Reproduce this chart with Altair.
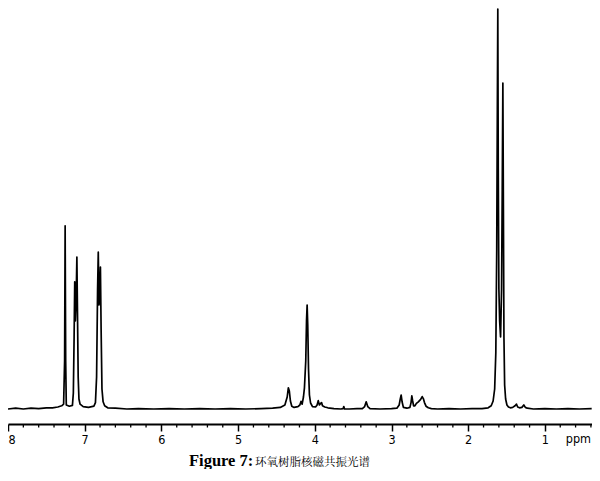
import altair as alt
import pandas as pd
import numpy as np

# Spectrum polyline vertices (chemical shift in ppm, relative intensity)
ppm = [
    8.00, 7.90, 7.80, 7.70, 7.60, 7.50, 7.42, 7.35, 7.30, 7.275,
    7.262, 7.255, 7.248, 7.24, 7.20, 7.16, 7.148, 7.138, 7.130, 7.122,
    7.112, 7.102, 7.094, 7.085, 7.075, 7.06, 7.02, 6.95, 6.88, 6.86,
    6.845, 6.832, 6.823, 6.813, 6.803, 6.795, 6.786, 6.775, 6.76, 6.74,
    6.70, 6.60, 6.45, 6.30, 6.10, 5.90, 5.70, 5.50, 5.30, 5.10,
    4.90, 4.70, 4.55, 4.45, 4.39, 4.36, 4.345, 4.332, 4.318, 4.30,
    4.27, 4.22, 4.195, 4.18, 4.165, 4.148, 4.135, 4.118, 4.108, 4.100,
    4.092, 4.082, 4.07, 4.055, 4.03, 3.99, 3.97, 3.955, 3.94, 3.925,
    3.912, 3.90, 3.87, 3.83, 3.75, 3.66, 3.63, 3.622, 3.612, 3.55,
    3.45, 3.38, 3.35, 3.33, 3.31, 3.28, 3.15, 3.00, 2.93, 2.90,
    2.885, 2.874, 2.862, 2.845, 2.80, 2.76, 2.745, 2.735, 2.724, 2.712,
    2.695, 2.675, 2.65, 2.62, 2.60, 2.585, 2.57, 2.55, 2.52, 2.48,
    2.40, 2.25, 2.10, 1.95, 1.82, 1.74, 1.70, 1.675, 1.655, 1.640,
    1.628, 1.620, 1.614, 1.608, 1.600, 1.590, 1.578, 1.565, 1.556, 1.548,
    1.541, 1.534, 1.525, 1.512, 1.495, 1.475, 1.45, 1.42, 1.39, 1.37,
    1.355, 1.33, 1.30, 1.275, 1.255, 1.23, 1.15, 1.00, 0.85, 0.70,
    0.55, 0.39,
]
intensity = [
    0.0, 0.2, 0.0, 0.2, 0.1, 0.3, 0.3, 0.5, 0.8, 1.2,
    12.0, 45.8, 12.0, 1.0, 0.7, 0.9, 4.0, 18.0, 31.8, 22.0,
    27.0, 38.0, 24.0, 8.0, 2.5, 1.2, 0.6, 0.4, 0.7, 1.6,
    8.0, 30.0, 39.2, 26.0, 30.0, 35.5, 20.0, 5.0, 1.8, 0.8,
    0.3, 0.2, 0.0, 0.1, 0.0, 0.1, 0.0, 0.1, 0.0, 0.1,
    0.0, 0.1, 0.2, 0.4, 1.0, 3.0, 5.3, 4.5, 2.0, 0.7,
    0.4, 0.6, 1.0, 1.9, 1.2, 3.0, 5.3, 12.0, 22.0, 26.0,
    21.0, 10.0, 3.5, 1.5, 0.6, 0.5, 1.0, 2.1, 1.0, 1.4,
    1.6, 0.8, 0.5, 0.3, 0.1, 0.0, 0.1, 0.6, 0.0, 0.0,
    0.1, 0.1, 0.6, 1.8, 0.6, 0.1, 0.0, 0.1, 0.2, 1.0,
    2.6, 3.5, 1.8, 0.4, 0.2, 0.4, 1.6, 3.3, 2.0, 0.8,
    0.8, 1.4, 1.8, 2.4, 3.1, 2.6, 1.6, 0.7, 0.3, 0.1,
    0.0, 0.1, 0.0, 0.1, 0.1, 0.3, 0.8, 2.0, 5.0, 14.0,
    40.0, 75.0, 100.0, 60.0, 30.0, 22.0, 18.0, 30.0, 55.0, 81.5,
    50.0, 18.0, 6.0, 2.5, 1.0, 0.5, 0.3, 0.4, 0.8, 1.2,
    0.5, 0.3, 0.4, 1.0, 0.4, 0.2, 0.0, 0.1, 0.0, 0.1,
    0.0, 0.1,
]

major_ticks = [1, 2, 3, 4, 5, 6, 7, 8]
minor_ticks = [round(v, 1) for v in np.arange(0.4, 8.0, 0.2) if abs(v - round(v)) > 0.05]

df = pd.DataFrame({"ppm": ppm, "intensity": intensity, "idx": range(len(ppm))})
minor_df = pd.DataFrame({"ppm": minor_ticks})

W, H = 584, 416
TOTAL_H = 461
PX_PER_PPM = 76.7
xscale = alt.Scale(domain=[8.0 - W / PX_PER_PPM, 8.0], reverse=True, nice=False, zero=False)
yscale = alt.Scale(domain=[-3.75, 100.25], nice=False, zero=False)
label_font = "Liberation Sans Narrow, DejaVu Sans Condensed, Liberation Sans"

spectrum = alt.Chart(df).mark_line(color="black", strokeWidth=1.7, strokeJoin="round").encode(
    x=alt.X("ppm:Q", scale=xscale,
            axis=alt.Axis(values=major_ticks, title=None, format="d",
                          domainColor="black", domainWidth=1.8,
                          tickColor="black", tickSize=7, tickWidth=1.5,
                          labelFontSize=12.5, labelColor="black", labelFont=label_font,
                          labelPadding=2, grid=False, labelFlush=True)),
    y=alt.Y("intensity:Q", scale=yscale, axis=None),
    order="idx:O",
)

minor = alt.Chart(minor_df).mark_rule(color="black", strokeWidth=1.3).encode(
    x=alt.X("ppm:Q", scale=xscale),
    y=alt.value(H),
    y2=alt.value(H + 3.5),
)

ppm_label = alt.Chart(pd.DataFrame({"t": ["ppm"]})).mark_text(
    fontSize=12.5, font=label_font, color="black", baseline="top", align="right"
).encode(text="t:N", x=alt.value(W - 1), y=alt.value(H + 9))

cap1 = alt.Chart(pd.DataFrame({"t": ["Figure 7:"]})).mark_text(
    fontSize=16.5, font="Liberation Serif", fontWeight="bold",
    color="black", baseline="alphabetic", align="left"
).encode(text="t:N", x=alt.value(181), y=alt.value(458))

cap2 = alt.Chart(pd.DataFrame({"t": ["环氧树脂核磁共振光谱"]})).mark_text(
    fontSize=11.5, font="Noto Serif CJK SC, Noto Sans CJK SC",
    color="black", baseline="alphabetic", align="left"
).encode(text="t:N", x=alt.value(247), y=alt.value(458))

chart = alt.layer(spectrum, minor, ppm_label, cap1, cap2).properties(
    width=W, height=H,
    autosize=alt.AutoSizeParams(type="none"),
    padding={"left": 0, "right": 0, "top": 0, "bottom": TOTAL_H - H},
    background="white",
).configure_view(stroke=None)

chart.save("out.html", embed_options={"renderer": "svg", "actions": False})
